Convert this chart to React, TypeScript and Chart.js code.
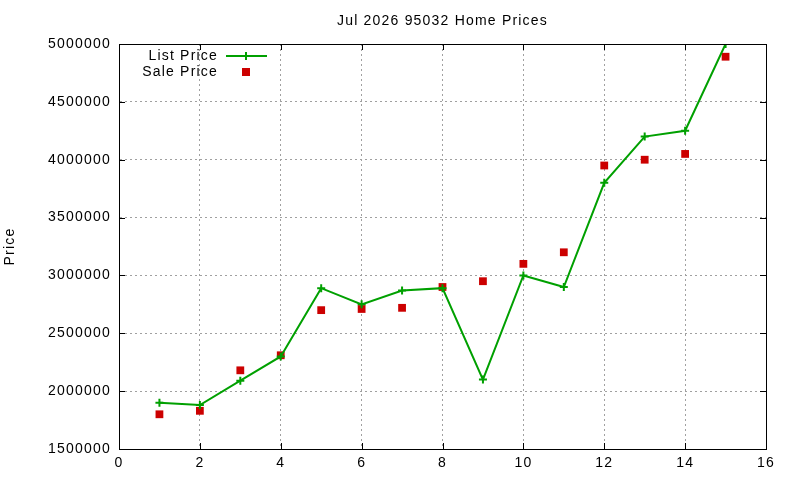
import { useEffect, useRef } from 'react';
import { Chart, ChartConfiguration, registerables, Plugin } from 'chart.js';

Chart.register(...registerables);

// Month index (x) and prices
const months = [1, 2, 3, 4, 5, 6, 7, 8, 9, 10, 11, 12, 13, 14, 15];
const listPrices = [
  1900000, 1880000, 2090000, 2300000, 2890000, 2750000, 2870000, 2890000,
  2100000, 3000000, 2900000, 3800000, 4200000, 4250000, 5000000
];
const salePrices = [
  1800000, 1830000, 2180000, 2310000, 2700000, 2710000, 2720000, 2900000,
  2950000, 3100000, 3200000, 3950000, 4000000, 4050000, 4890000
];
const seriesLabels = ['List Price', 'Sale Price'];
const chartTitle = 'Jul 2026 95032 Home Prices';

const FONT = 'Liberation Sans, Arial, sans-serif';
const GREEN = '#00a000';
const RED = '#cc0000';

// gnuplot-like frame, inward ticks, title and key
const gnuplotLook: Plugin = {
  id: 'gnuplotLook',
  beforeDraw(chart) {
    (chart.ctx as any).letterSpacing = '1.2px';
  },
  afterDraw(chart) {
    const { ctx, chartArea: a } = chart;
    const xs = chart.scales.x;
    const ys = chart.scales.y;
    ctx.save();
    (ctx as any).letterSpacing = '1.2px';
    ctx.strokeStyle = '#000';
    ctx.lineWidth = 1;
    ctx.setLineDash([]);
    ctx.strokeRect(a.left + 0.5, a.top + 0.5, a.right - a.left, a.bottom - a.top);
    ctx.beginPath();
    xs.ticks.forEach((t) => {
      const px = Math.round(xs.getPixelForValue(t.value)) + 0.5;
      ctx.moveTo(px, a.bottom); ctx.lineTo(px, a.bottom - 6);
      ctx.moveTo(px, a.top); ctx.lineTo(px, a.top + 6);
    });
    ys.ticks.forEach((t) => {
      const py = Math.round(ys.getPixelForValue(t.value)) + 0.5;
      ctx.moveTo(a.left, py); ctx.lineTo(a.left + 6, py);
      ctx.moveTo(a.right, py); ctx.lineTo(a.right - 6, py);
    });
    ctx.stroke();

    ctx.fillStyle = '#000';
    ctx.font = `14px ${FONT}`;
    ctx.textAlign = 'center';
    ctx.textBaseline = 'middle';
    ctx.fillText(chartTitle, (a.left + a.right) / 2, 21);

    // key: text right-aligned, sample to the right
    ctx.textAlign = 'right';
    ctx.fillText(seriesLabels[0], 218, 56);
    ctx.fillText(seriesLabels[1], 218, 72);
    ctx.strokeStyle = GREEN;
    ctx.lineWidth = 2;
    ctx.beginPath();
    ctx.moveTo(226, 56); ctx.lineTo(267, 56);
    ctx.moveTo(246, 52); ctx.lineTo(246, 60);
    ctx.stroke();
    ctx.fillStyle = RED;
    ctx.fillRect(242, 68, 8, 8);
    ctx.restore();
  }
};

export default function App() {
  const canvasRef = useRef<HTMLCanvasElement>(null);
  const chartRef = useRef<Chart | null>(null);

  useEffect(() => {
    if (!canvasRef.current) return;
    if (chartRef.current) chartRef.current.destroy();
    const ctx = canvasRef.current.getContext('2d');
    if (!ctx) return;

    const tickFont = { family: FONT, size: 14 };

    const config: ChartConfiguration = {
      type: 'line',
      data: {
        datasets: [
          {
            label: seriesLabels[0],
            data: months.map((m, i) => ({ x: m, y: listPrices[i] })),
            borderColor: GREEN,
            backgroundColor: GREEN,
            borderWidth: 2,
            pointStyle: 'cross',
            pointRadius: 4,
            pointBorderWidth: 2,
            tension: 0
          },
          {
            label: seriesLabels[1],
            data: months.map((m, i) => ({ x: m, y: salePrices[i] })),
            showLine: false,
            borderColor: RED,
            backgroundColor: RED,
            pointStyle: 'rect',
            pointRadius: 5.5,
            pointBorderWidth: 0
          }
        ]
      },
      options: {
        responsive: false,
        animation: false,
        layout: { padding: { top: 44, right: 34, left: 0, bottom: 0 } },
        plugins: {
          legend: { display: false },
          title: { display: false },
          tooltip: { enabled: false }
        },
        scales: {
          x: {
            type: 'linear',
            min: 0,
            max: 16,
            ticks: { stepSize: 2, color: '#000', padding: 6, font: tickFont, callback: (v) => String(v) },
            grid: { color: '#a0a0a0', lineWidth: 1, drawTicks: false },
            border: { display: true, color: '#000', dash: [2, 3] },
            afterFit: (s: any) => { s.height = 31; }
          },
          y: {
            min: 1500000,
            max: 5000000,
            ticks: { stepSize: 500000, color: '#000', padding: 8, font: tickFont, callback: (v) => String(v) },
            grid: { color: '#a0a0a0', lineWidth: 1, drawTicks: false },
            border: { display: true, color: '#000', dash: [2, 3] },
            title: {
              display: true,
              text: 'Price',
              color: '#000',
              font: tickFont,
              padding: { top: 2, bottom: 0 }
            },
            afterFit: (s: any) => { s.width = 119; }
          }
        }
      },
      plugins: [gnuplotLook]
    };

    chartRef.current = new Chart(ctx, config);
    return () => {
      if (chartRef.current) chartRef.current.destroy();
    };
  }, []);

  return (
    <div style={{ position: 'fixed', left: 0, top: 0, width: 800, height: 480, background: '#fff' }}>
      <canvas ref={canvasRef} width={800} height={480}></canvas>
    </div>
  );
}
